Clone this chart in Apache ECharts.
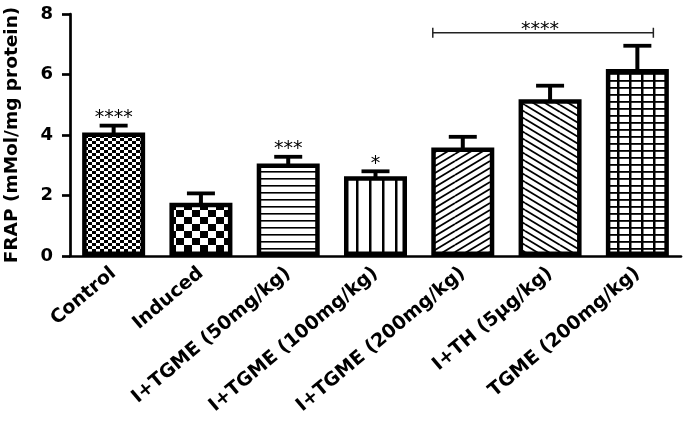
<!DOCTYPE html>
<html><head><meta charset="utf-8">
<script src="https://cdn.jsdelivr.net/npm/echarts@6/dist/echarts.min.js"></script>
<style>html,body{margin:0;padding:0;background:#fff}#c{width:685px;height:421px}</style>
</head><body><div id="c"></div>
<script>
const categories = ['Control','Induced','I+TGME (50mg/kg)','I+TGME (100mg/kg)','I+TGME (200mg/kg)','I+TH (5µg/kg)','TGME (200mg/kg)'];
const means = [4.08, 1.76, 3.06, 2.64, 3.59, 5.18, 6.18];
const sems = [0.23, 0.31, 0.22, 0.16, 0.35, 0.45, 0.77];
const sigLabels = ['****', '', '***', '*', '', '', ''];
const yTicks = [0, 2, 4, 6, 8];
const bracket = [[4, 6, 7.38, '****']];

const FONT = 'DejaVu Sans';
function tile(w, h, draw) {
  const c = document.createElement('canvas'); c.width = w; c.height = h;
  const g = c.getContext('2d'); g.fillStyle = '#fff'; g.fillRect(0, 0, w, h);
  g.fillStyle = '#000'; g.strokeStyle = '#000'; draw(g, w, h); return c;
}
const patterns = [
  tile(8, 6, g => { g.fillRect(0, 0, 4, 3); g.fillRect(4, 3, 4, 3); }),
  tile(16, 14, g => { g.fillRect(0, 0, 8, 7); g.fillRect(8, 7, 8, 7); }),
  tile(4, 7, g => { g.fillRect(0, 3, 4, 1.6); }),
  tile(13, 4, g => { g.fillRect(5, 0, 2.5, 4); }),
  tile(35, 21, g => { g.lineWidth = 1.8; for (let c = 0; c <= 42; c += 7) { g.beginPath(); g.moveTo(0, c); g.lineTo(35, c - 21); g.stroke(); } }),
  tile(35, 21, g => { g.lineWidth = 1.8; for (let c = -21; c <= 21; c += 7) { g.beginPath(); g.moveTo(0, c); g.lineTo(35, c + 21); g.stroke(); } }),
  tile(12, 7, g => { g.fillRect(5, 0, 2.5, 7); g.fillRect(0, 3, 12, 1.8); })
];

const chart = echarts.init(document.getElementById('c'), null, {renderer: 'canvas'});
chart.setOption({
  animation: false,
  backgroundColor: '#fff',
  grid: {left: 70, right: 4, top: 14, bottom: 165, containLabel: false, outerBoundsMode: 'none'},
  xAxis: {
    type: 'category', data: categories,
    axisLine: {lineStyle: {color: '#000', width: 2.7}},
    axisTick: {alignWithLabel: true, length: 7, lineStyle: {color: '#000', width: 2.7}},
    axisLabel: {rotate: 40, margin: 15, color: '#000', fontFamily: FONT, fontWeight: 'bold', fontSize: 19, interval: 0}
  },
  yAxis: {
    type: 'value', min: 0, max: 8, interval: 2,
    name: 'FRAP (mMol/mg protein)', nameLocation: 'middle', nameGap: 48,
    nameTextStyle: {color: '#000', fontFamily: FONT, fontWeight: 'bold', fontSize: 18.5},
    axisLine: {show: true, lineStyle: {color: '#000', width: 2.7}},
    axisTick: {show: true, length: 8, lineStyle: {color: '#000', width: 2.7}},
    splitLine: {show: false},
    axisLabel: {margin: 17, color: '#000', fontFamily: FONT, fontWeight: 'bold', fontSize: 18,
      formatter: v => yTicks.includes(v) ? String(v) : ''}
  },
  series: [
    {
      type: 'bar', barWidth: 63, z: 2,
      data: means.map((v, i) => ({value: v, itemStyle: {color: {image: patterns[i], repeat: 'repeat'}}})),
      itemStyle: {borderColor: '#000', borderWidth: 4.5}
    },
    {
      type: 'custom', z: 3,
      data: means.map((m, i) => [i, m, sems[i]]),
      renderItem: (params, api) => {
        const i = api.value(0), m = api.value(1), e = api.value(2);
        const b = api.coord([i, m]), t = api.coord([i, m + e]);
        const children = [
          {type: 'line', shape: {x1: b[0], y1: b[1] + 1, x2: t[0], y2: t[1]}, style: {stroke: '#000', lineWidth: 4}},
          {type: 'line', shape: {x1: t[0] - 14, y1: t[1], x2: t[0] + 14, y2: t[1]}, style: {stroke: '#000', lineWidth: 3.8}}
        ];
        const s = sigLabels[params.dataIndex];
        if (s) children.push({type: 'text', style: {text: s, x: t[0], y: t[1] - 7.5, align: 'center', verticalAlign: 'middle', font: '19px "DejaVu Sans"', fill: '#000'}});
        return {type: 'group', children};
      }
    },
    {
      type: 'custom', z: 3,
      data: bracket,
      renderItem: (params, api) => {
        const y = api.value(2);
        const p1 = api.coord([api.value(0), y]), p2 = api.coord([api.value(1), y]);
        const x1 = p1[0] - 30, x2 = p2[0] + 16, yy = p1[1];
        return {type: 'group', children: [
          {type: 'line', shape: {x1, y1: yy, x2, y2: yy}, style: {stroke: '#222', lineWidth: 1.5}},
          {type: 'line', shape: {x1, y1: yy - 5, x2: x1, y2: yy + 5}, style: {stroke: '#222', lineWidth: 1.5}},
          {type: 'line', shape: {x1: x2, y1: yy - 5, x2, y2: yy + 5}, style: {stroke: '#222', lineWidth: 1.5}},
          {type: 'text', style: {text: bracket[params.dataIndex][3], x: (x1 + x2) / 2 - 3, y: yy - 3, align: 'center', verticalAlign: 'middle', font: '19px "DejaVu Sans"', fill: '#000'}}
        ]};
      }
    }
  ]
});
</script></body></html>
